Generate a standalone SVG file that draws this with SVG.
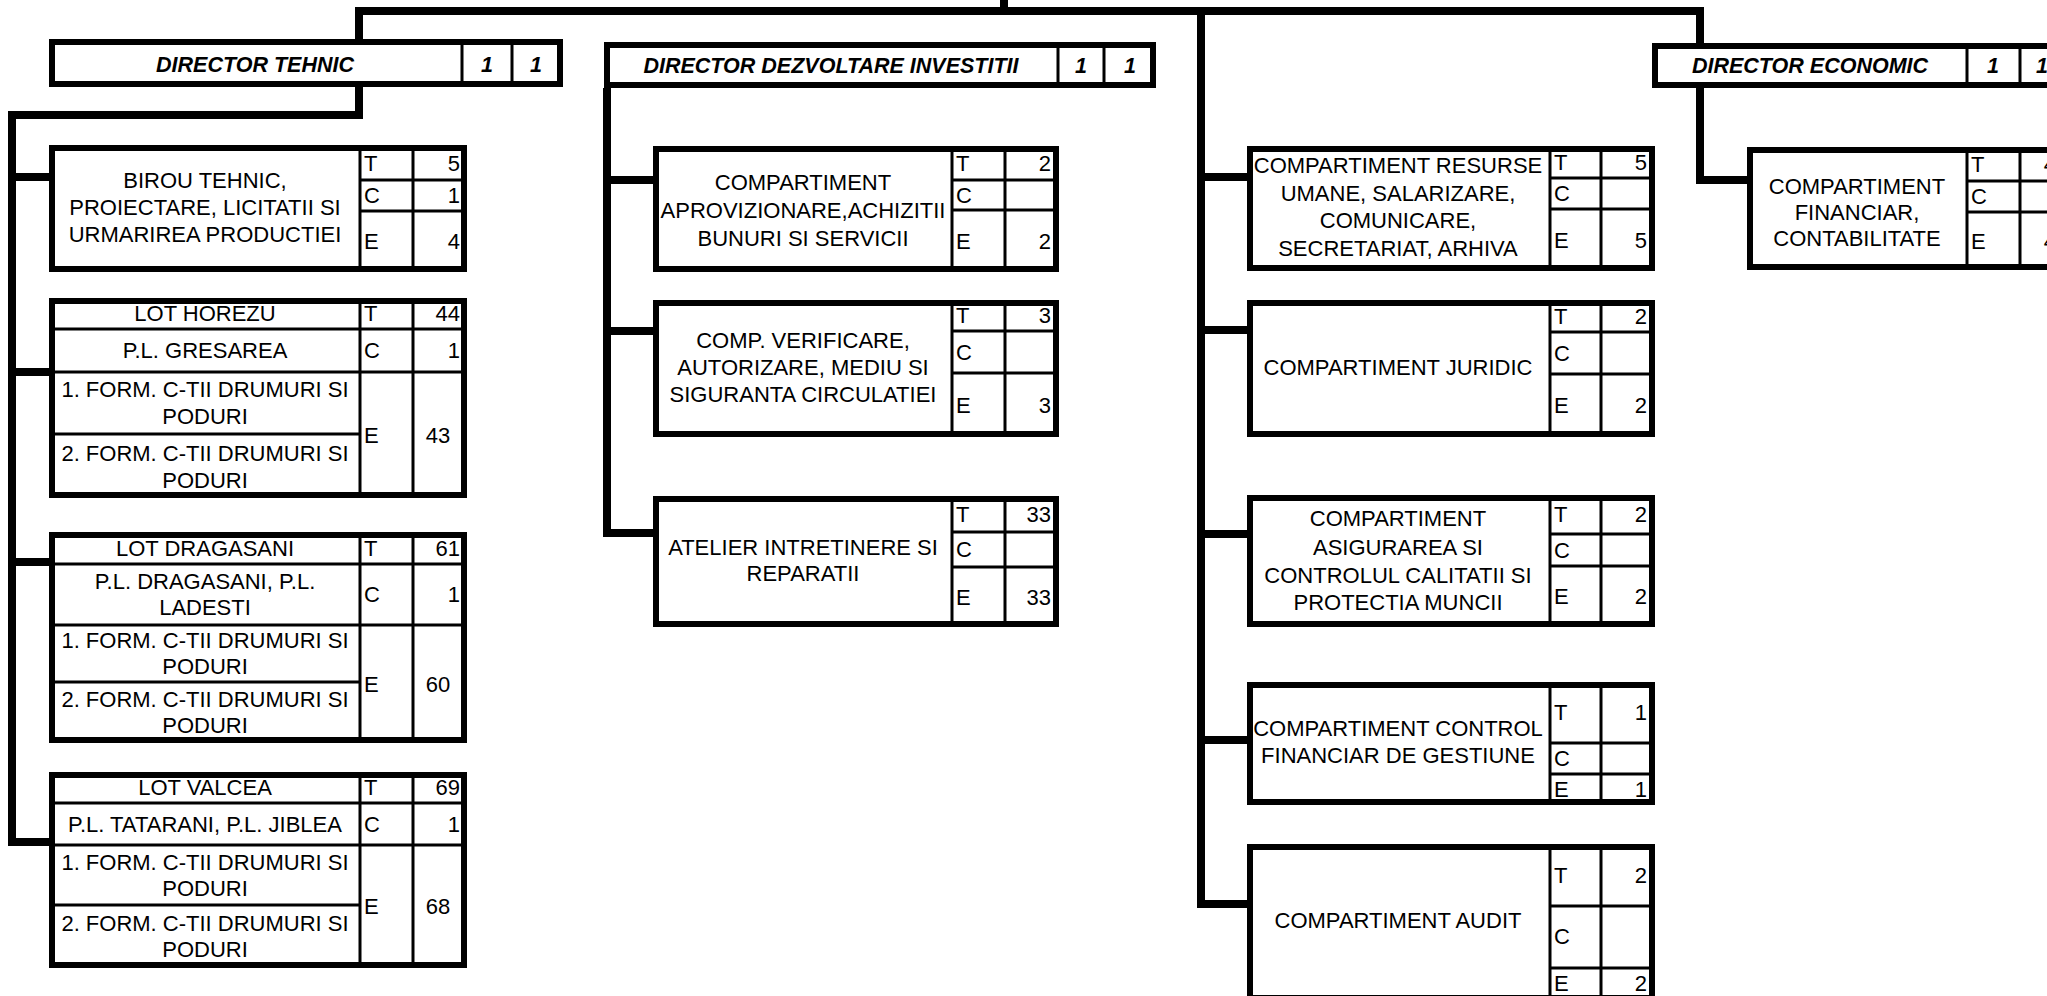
<svg xmlns="http://www.w3.org/2000/svg" width="2047" height="996" viewBox="0 0 2047 996">
<style>
.b{fill:#fff;stroke:#000;stroke-width:6}
.d{stroke:#000;stroke-width:3;fill:none}
.c{stroke:#000;stroke-width:8;fill:none;stroke-linejoin:miter}
text{font-family:"Liberation Sans",Arial,sans-serif;font-size:22px;fill:#000;text-anchor:middle}
.l{text-anchor:start}
.r{text-anchor:end}
.h{font-weight:bold;font-style:italic;font-size:21.5px}
</style>
<rect width="2047" height="996" fill="#fff"/>
<g id="connectors">
<path class="c" d="M359 42V11H1700V43"/>
<path class="c" d="M1004 0V11"/>
<path class="c" d="M359 86V115H12V842H49"/>
<path class="c" d="M12 177H49M12 372H49M12 562H49"/>
<path class="c" d="M607 88V533H653M607 180H653M607 331H653"/>
<path class="c" d="M1201 11V904H1247M1201 177H1247M1201 330H1247M1201 534H1247M1201 740H1247"/>
<path class="c" d="M1700 88V180H1747"/>
</g>
<g id="dir-tehnic">
<rect class="b" x="52" y="42" width="508" height="42"/>
<path class="d" d="M462 42V84M512 42V84"/>
<text class="h" x="255" y="72">DIRECTOR TEHNIC</text>
<text class="h" x="487" y="72">1</text>
<text class="h" x="536" y="72">1</text>
</g>
<g id="dir-dezvoltare">
<rect class="b" x="607" y="45" width="546" height="40"/>
<path class="d" d="M1058 45V85M1104 45V85"/>
<text class="h" x="831" y="73">DIRECTOR DEZVOLTARE INVESTITII</text>
<text class="h" x="1081" y="73">1</text>
<text class="h" x="1130" y="73">1</text>
</g>
<g id="dir-economic">
<rect class="b" x="1655" y="46" width="430" height="39"/>
<path class="d" d="M1967 46V85M2020 46V85"/>
<text class="h" x="1810" y="73">DIRECTOR ECONOMIC</text>
<text class="h" x="1993" y="73">1</text>
<text class="h" x="2042" y="73">1</text>
</g>
<g id="birou-tehnic">
<rect class="b" x="52" y="148" width="412" height="121"/>
<path class="d" d="M360 148V269M413 148V269M360 180H464M360 211H464"/>
<text x="205" y="188">BIROU TEHNIC,</text>
<text x="205" y="215">PROIECTARE, LICITATII SI</text>
<text x="205" y="242">URMARIREA PRODUCTIEI</text>
<text class="l" x="364" y="171">T</text><text class="r" x="460" y="171">5</text>
<text class="l" x="364" y="203">C</text><text class="r" x="460" y="203">1</text>
<text class="l" x="364" y="249">E</text><text class="r" x="460" y="249">4</text>
</g>
<g id="lot-horezu">
<rect class="b" x="52" y="301" width="412" height="194"/>
<path class="d" d="M360 301V495M413 301V495M52 329H464M52 372H464M52 434H360"/>
<text x="205" y="321">LOT HOREZU</text>
<text x="205" y="358">P.L. GRESAREA</text>
<text x="205" y="397">1. FORM. C-TII DRUMURI SI</text>
<text x="205" y="424">PODURI</text>
<text x="205" y="461">2. FORM. C-TII DRUMURI SI</text>
<text x="205" y="488">PODURI</text>
<text class="l" x="364" y="321">T</text><text class="r" x="460" y="321">44</text>
<text class="l" x="364" y="358">C</text><text class="r" x="460" y="358">1</text>
<text class="l" x="364" y="443">E</text><text x="438" y="443">43</text>
</g>
<g id="lot-dragasani">
<rect class="b" x="52" y="535" width="412" height="205"/>
<path class="d" d="M360 535V740M413 535V740M52 564H464M52 625H464M52 682H360"/>
<text x="205" y="556">LOT DRAGASANI</text>
<text x="205" y="589">P.L. DRAGASANI, P.L.</text>
<text x="205" y="615">LADESTI</text>
<text x="205" y="648">1. FORM. C-TII DRUMURI SI</text>
<text x="205" y="674">PODURI</text>
<text x="205" y="707">2. FORM. C-TII DRUMURI SI</text>
<text x="205" y="733">PODURI</text>
<text class="l" x="364" y="556">T</text><text class="r" x="460" y="556">61</text>
<text class="l" x="364" y="602">C</text><text class="r" x="460" y="602">1</text>
<text class="l" x="364" y="692">E</text><text x="438" y="692">60</text>
</g>
<g id="lot-valcea">
<rect class="b" x="52" y="775" width="412" height="190"/>
<path class="d" d="M360 775V965M413 775V965M52 803H464M52 845H464M52 905H360"/>
<text x="205" y="795">LOT VALCEA</text>
<text x="205" y="832">P.L. TATARANI, P.L. JIBLEA</text>
<text x="205" y="870">1. FORM. C-TII DRUMURI SI</text>
<text x="205" y="896">PODURI</text>
<text x="205" y="931">2. FORM. C-TII DRUMURI SI</text>
<text x="205" y="957">PODURI</text>
<text class="l" x="364" y="795">T</text><text class="r" x="460" y="795">69</text>
<text class="l" x="364" y="832">C</text><text class="r" x="460" y="832">1</text>
<text class="l" x="364" y="914">E</text><text x="438" y="914">68</text>
</g>
<g id="comp-aprovizionare">
<rect class="b" x="656" y="149" width="400" height="120"/>
<path class="d" d="M952 149V269M1005 149V269M952 180H1056M952 210H1056"/>
<text x="803" y="190">COMPARTIMENT</text>
<text x="803" y="218">APROVIZIONARE,ACHIZITII</text>
<text x="803" y="246">BUNURI SI SERVICII</text>
<text class="l" x="956" y="171">T</text><text class="r" x="1051" y="171">2</text>
<text class="l" x="956" y="203">C</text>
<text class="l" x="956" y="249">E</text><text class="r" x="1051" y="249">2</text>
</g>
<g id="comp-verificare">
<rect class="b" x="656" y="303" width="400" height="131"/>
<path class="d" d="M952 303V434M1005 303V434M952 331H1056M952 373H1056"/>
<text x="803" y="348">COMP. VERIFICARE,</text>
<text x="803" y="375">AUTORIZARE, MEDIU SI</text>
<text x="803" y="402">SIGURANTA CIRCULATIEI</text>
<text class="l" x="956" y="323">T</text><text class="r" x="1051" y="323">3</text>
<text class="l" x="956" y="360">C</text>
<text class="l" x="956" y="413">E</text><text class="r" x="1051" y="413">3</text>
</g>
<g id="atelier">
<rect class="b" x="656" y="499" width="400" height="125"/>
<path class="d" d="M952 499V624M1005 499V624M952 532H1056M952 567H1056"/>
<text x="803" y="555">ATELIER INTRETINERE SI</text>
<text x="803" y="581">REPARATII</text>
<text class="l" x="956" y="522">T</text><text class="r" x="1051" y="522">33</text>
<text class="l" x="956" y="557">C</text>
<text class="l" x="956" y="605">E</text><text class="r" x="1051" y="605">33</text>
</g>
<g id="comp-resurse">
<rect class="b" x="1250" y="149" width="402" height="119"/>
<path class="d" d="M1550 149V268M1601 149V268M1550 178H1652M1550 209H1652"/>
<text x="1398" y="173">COMPARTIMENT RESURSE</text>
<text x="1398" y="201">UMANE, SALARIZARE,</text>
<text x="1398" y="228">COMUNICARE,</text>
<text x="1398" y="256">SECRETARIAT, ARHIVA</text>
<text class="l" x="1554" y="170">T</text><text class="r" x="1647" y="170">5</text>
<text class="l" x="1554" y="201">C</text>
<text class="l" x="1554" y="248">E</text><text class="r" x="1647" y="248">5</text>
</g>
<g id="comp-juridic">
<rect class="b" x="1250" y="303" width="402" height="131"/>
<path class="d" d="M1550 303V434M1601 303V434M1550 332H1652M1550 374H1652"/>
<text x="1398" y="375">COMPARTIMENT JURIDIC</text>
<text class="l" x="1554" y="324">T</text><text class="r" x="1647" y="324">2</text>
<text class="l" x="1554" y="361">C</text>
<text class="l" x="1554" y="413">E</text><text class="r" x="1647" y="413">2</text>
</g>
<g id="comp-calitate">
<rect class="b" x="1250" y="498" width="402" height="126"/>
<path class="d" d="M1550 498V624M1601 498V624M1550 534H1652M1550 566H1652"/>
<text x="1398" y="526">COMPARTIMENT</text>
<text x="1398" y="555">ASIGURAREA SI</text>
<text x="1398" y="583">CONTROLUL CALITATII SI</text>
<text x="1398" y="610">PROTECTIA MUNCII</text>
<text class="l" x="1554" y="522">T</text><text class="r" x="1647" y="522">2</text>
<text class="l" x="1554" y="558">C</text>
<text class="l" x="1554" y="604">E</text><text class="r" x="1647" y="604">2</text>
</g>
<g id="comp-control">
<rect class="b" x="1250" y="685" width="402" height="117"/>
<path class="d" d="M1550 685V802M1601 685V802M1550 743H1652M1550 774H1652"/>
<text x="1398" y="736">COMPARTIMENT CONTROL</text>
<text x="1398" y="763">FINANCIAR DE GESTIUNE</text>
<text class="l" x="1554" y="720">T</text><text class="r" x="1647" y="720">1</text>
<text class="l" x="1554" y="766">C</text>
<text class="l" x="1554" y="797">E</text><text class="r" x="1647" y="797">1</text>
</g>
<g id="comp-audit">
<rect class="b" x="1250" y="847" width="402" height="151"/>
<path class="d" d="M1550 847V998M1601 847V998M1550 906H1652M1550 968H1652"/>
<text x="1398" y="928">COMPARTIMENT AUDIT</text>
<text class="l" x="1554" y="883">T</text><text class="r" x="1647" y="883">2</text>
<text class="l" x="1554" y="944">C</text>
<text class="l" x="1554" y="991">E</text><text class="r" x="1647" y="991">2</text>
</g>
<g id="comp-financiar">
<rect class="b" x="1750" y="150" width="330" height="117"/>
<path class="d" d="M1967 150V267M2020 150V267M1967 181H2080M1967 212H2080"/>
<text x="1857" y="194">COMPARTIMENT</text>
<text x="1857" y="220">FINANCIAR,</text>
<text x="1857" y="246">CONTABILITATE</text>
<text class="l" x="1971" y="172">T</text><text class="r" x="2056" y="172">4</text>
<text class="l" x="1971" y="204">C</text>
<text class="l" x="1971" y="249">E</text><text class="r" x="2056" y="249">4</text>
</g>
</svg>
